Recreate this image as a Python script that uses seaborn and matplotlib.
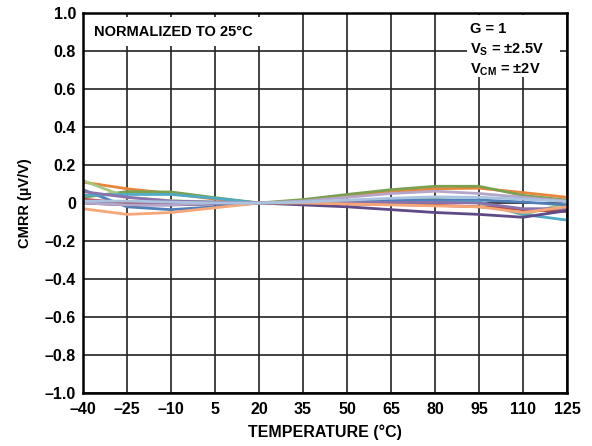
import numpy as np
import pandas as pd
import matplotlib
matplotlib.use("Agg")
import matplotlib.pyplot as plt
import matplotlib.patches as mpatches
import seaborn as sns

# ── Data ──────────────────────────────────────────────────────
TEMPS = [-40, -25, -10, 5, 20, 35, 50, 65, 80, 95, 110, 125]

orange     = [0.110, 0.075, 0.050, 0.020, 0.0, 0.010, 0.035, 0.060, 0.075, 0.078, 0.055, 0.030]
green      = [0.030, 0.060, 0.058, 0.028, 0.0, 0.018, 0.045, 0.070, 0.088, 0.088, 0.040, 0.015]
lightgreen = [0.118, 0.030, 0.012, 0.005, 0.0, 0.004, 0.010, 0.015, 0.020, 0.000, -0.062, 0.000]
blue       = [0.070, -0.020, -0.035, -0.020, 0.0, 0.004, 0.010, 0.014, 0.016, 0.016, 0.005, -0.010]
aqua       = [0.040, 0.045, 0.045, 0.025, 0.0, 0.000, 0.002, 0.003, 0.004, 0.006, -0.060, -0.090]
darkred    = [0.020, 0.000, 0.000, 0.000, 0.0, -0.002, -0.005, -0.008, -0.012, -0.020, -0.035, -0.045]
purple     = [0.060, 0.030, 0.010, 0.005, 0.0, 0.000, 0.002, 0.003, 0.003, 0.000, -0.030, -0.030]
darkpurple = [0.000, -0.010, -0.010, -0.005, 0.0, -0.010, -0.020, -0.035, -0.050, -0.060, -0.075, -0.040]
salmon     = [-0.030, -0.060, -0.050, -0.025, 0.0, 0.000, -0.005, -0.010, -0.015, -0.020, -0.050, -0.020]
lavender   = [0.000, -0.010, -0.010, 0.000, 0.0, 0.010, 0.030, 0.050, 0.062, 0.050, 0.030, 0.010]
lightblue  = [0.010, 0.010, 0.005, 0.000, 0.0, 0.005, 0.015, 0.025, 0.032, 0.030, 0.020, 0.008]

SERIES = {
    "orange": orange, "green": green, "lightgreen": lightgreen,
    "blue": blue, "aqua": aqua, "darkred": darkred, "purple": purple,
    "darkpurple": darkpurple, "salmon": salmon, "lavender": lavender,
    "lightblue": lightblue,
}
PALETTE = {
    "orange": "#E8853A", "green": "#7BA150", "lightgreen": "#A8C77E",
    "blue": "#4F7FB8", "aqua": "#4FAAC4", "darkred": "#B04B4A",
    "purple": "#8A72AE", "darkpurple": "#5E4A86", "salmon": "#F7A678",
    "lavender": "#B5A5CA", "lightblue": "#A9C2DE",
}

X_TICKS = TEMPS
X_LABELS = ["–40", "–25", "–10", "5", "20", "35", "50", "65", "80", "95", "110", "125"]
Y_TICKS = [1.0, 0.8, 0.6, 0.4, 0.2, 0.0, -0.2, -0.4, -0.6, -0.8, -1.0]
Y_LABELS = ["1.0", "0.8", "0.6", "0.4", "0.2", "0", "–0.2", "–0.4", "–0.6", "–0.8", "–1.0"]

# ── Style ─────────────────────────────────────────────────────
sns.set_theme(style="white")
plt.rcParams["font.family"] = ["Liberation Sans", "DejaVu Sans"]
plt.rcParams["font.weight"] = "bold"
plt.rcParams["text.color"] = "black"
plt.rcParams["axes.labelcolor"] = "black"
plt.rcParams["mathtext.fontset"] = "custom"
plt.rcParams["mathtext.rm"] = "Liberation Sans:bold"
plt.rcParams["mathtext.bf"] = "Liberation Sans:bold"

df = pd.DataFrame(
    [(name, t, v) for name, vals in SERIES.items() for t, v in zip(TEMPS, vals)],
    columns=["series", "temp", "cmrr"],
)

fig = plt.figure(figsize=(5.92, 4.46), dpi=100)
ax = fig.add_axes([83 / 592, 1 - 393 / 446, 484 / 592, 380 / 446])

sns.lineplot(data=df, x="temp", y="cmrr", hue="series", palette=PALETTE,
             linewidth=2.0, legend=False, ax=ax, zorder=3)

ax.set_xlim(-40, 125)
ax.set_ylim(-1.0, 1.0)
ax.set_xticks(X_TICKS)
ax.set_xticklabels(X_LABELS, fontsize=11.5, fontweight="bold", color="black")
ax.set_yticks(Y_TICKS)
ax.set_yticklabels(Y_LABELS, fontsize=11.5, fontweight="bold", color="black")
ax.tick_params(axis="x", length=0, pad=6.5)
ax.tick_params(axis="y", length=0, pad=5)
ax.grid(True, color="#222222", linewidth=1.2, zorder=1)
ax.set_axisbelow(True)
for sp in ax.spines.values():
    sp.set_edgecolor("black")
    sp.set_linewidth(1.8)
    sp.set_zorder(6)

ax.set_xlabel("TEMPERATURE (°C)", fontsize=11.5, fontweight="bold", labelpad=5)
ax.set_ylabel("CMRR (µV/V)", fontsize=10.5, fontweight="bold", labelpad=9)

# white boxes that mask the grid behind the annotations
ax.add_patch(mpatches.Rectangle((0.0, 0.913), 0.448, 0.076, transform=ax.transAxes,
                                facecolor="white", edgecolor="none", zorder=4))
ax.add_patch(mpatches.Rectangle((0.793, 0.832), 0.193, 0.163, transform=ax.transAxes,
                                facecolor="white", edgecolor="none", zorder=4))

ax.text(0.022, 0.951, "NORMALIZED TO 25°C", transform=ax.transAxes,
        fontsize=10.5, fontweight="bold", va="center", ha="left", zorder=5)
ax.text(0.800, 0.958, "G = 1", transform=ax.transAxes,
        fontsize=10.5, fontweight="bold", va="center", ha="left", zorder=5)
ax.text(0.800, 0.903, r"V$_{\mathrm{S}}$ = ±2.5V", transform=ax.transAxes,
        fontsize=10.5, fontweight="bold", va="center", ha="left", zorder=5)
ax.text(0.800, 0.850, r"V$_{\mathrm{CM}}$ = ±2V", transform=ax.transAxes,
        fontsize=10.5, fontweight="bold", va="center", ha="left", zorder=5)

fig.savefig("out.png", dpi=100, facecolor="white")
